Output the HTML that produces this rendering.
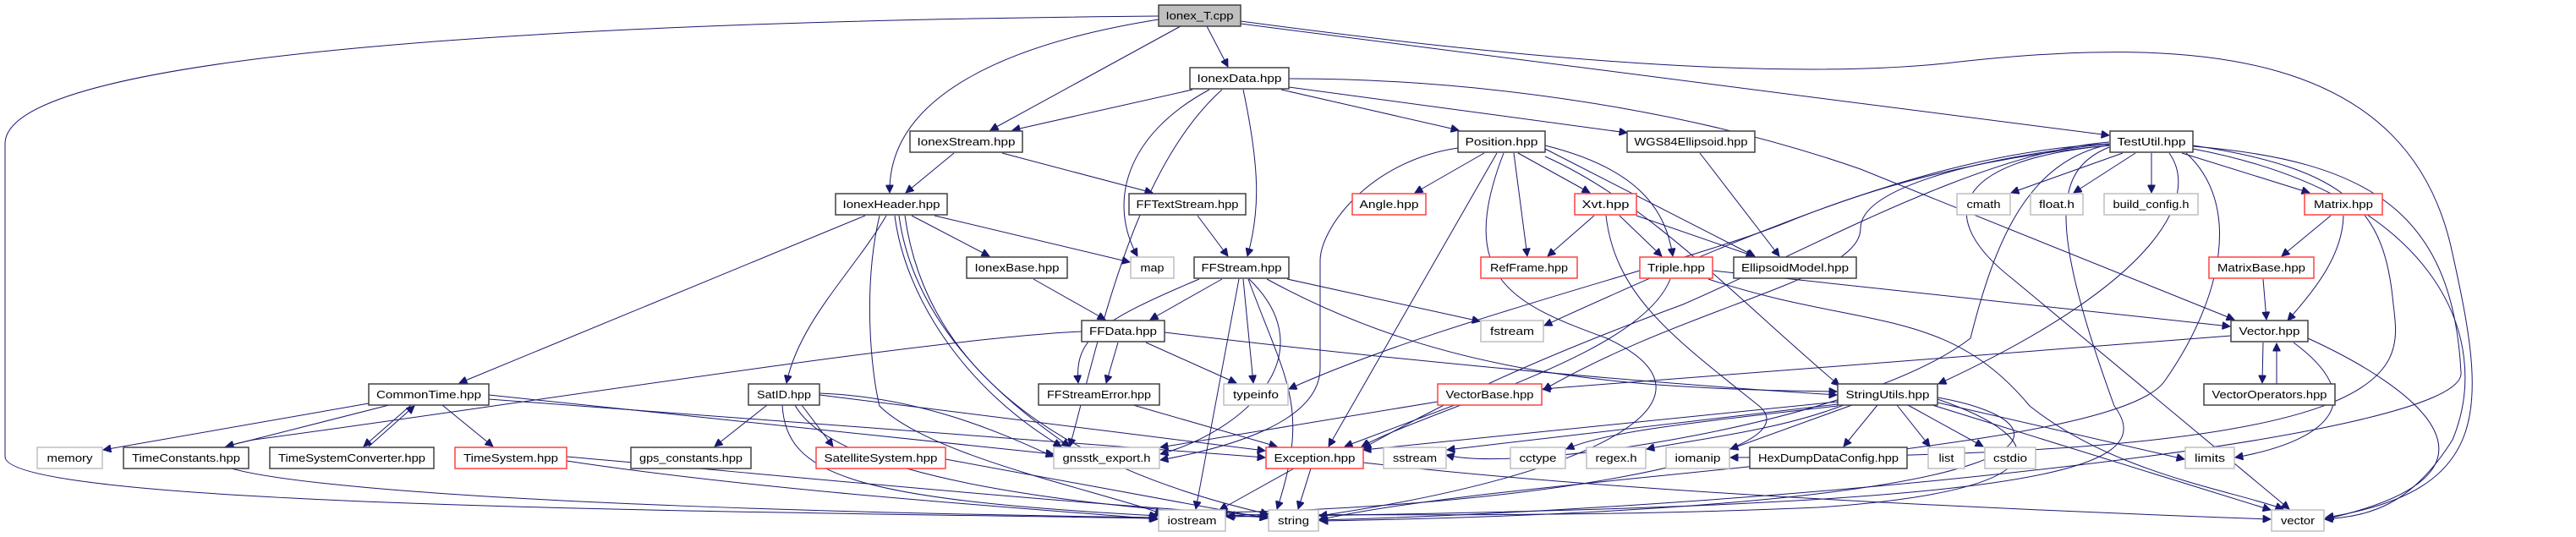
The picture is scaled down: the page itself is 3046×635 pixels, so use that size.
<!DOCTYPE html>
<html><head><meta charset="utf-8"><style>
html,body{margin:0;padding:0;background:#fff;}
svg{display:block;}
text{font-family:"Liberation Sans","DejaVu Sans",sans-serif;font-size:13px;fill:#000;text-anchor:middle;}
.b{fill:#fff;stroke:#404040;stroke-width:1.5;}
.g{fill:#fff;stroke:#bfbfbf;stroke-width:1.5;}
.r{fill:#fff;stroke:#ff4040;stroke-width:1.5;}
.e path{fill:none;stroke:#191970;stroke-width:1;marker-end:url(#a);}
</style></head><body>
<svg width="3046" height="635" viewBox="0 0 3046 635" xmlns="http://www.w3.org/2000/svg">
<defs><marker id="a" viewBox="0 0 10 10" refX="10" refY="5" markerWidth="11" markerHeight="9" markerUnits="userSpaceOnUse" orient="auto"><path d="M0,0 L10,5 L0,10 z" fill="#191970" stroke="#191970"/></marker></defs>
<g class="e">
<!-- Ionex_T -->
<path d="M1370,19 C700,25 6,60 6,170 L6,540 C6,600 900,605 1368,613"/>
<path d="M1427,31 L1452,79"/>
<path d="M1396,31 L1171,154"/>
<path d="M1370,23 C1200,50 1050,110 1052,228"/>
<path d="M1467,28 L2494,160"/>
<path d="M1467,25 C1800,70 2100,95 2300,75 C2600,40 2850,60 2900,300 C2940,480 2950,580 2750,612"/>
<!-- IonexData -->
<path d="M1410,106 L1197,154"/>
<path d="M1430,106 C1330,160 1310,240 1345,303"/>
<path d="M1445,106 C1340,200 1300,400 1265,528"/>
<path d="M1470,106 C1490,200 1490,250 1475,303"/>
<path d="M1515,106 L1725,154"/>
<path d="M1524,103 L1924,157"/>
<path d="M1524,93 C1750,93 2000,130 2200,200 L2642,378"/>
<!-- IonexStream -->
<path d="M1128,181 L1071,228"/>
<path d="M1185,181 L1363,228"/>
<!-- IonexHeader -->
<path d="M1023,255 L543,453"/>
<path d="M1048,255 C1010,320 945,380 930,453"/>
<path d="M1078,255 L1170,303"/>
<path d="M1105,255 L1336,310"/>
<path d="M1058,255 C1070,350 1140,460 1255,528"/>
<path d="M1063,255 C1080,380 1180,470 1265,528"/>
<path d="M1040,255 C1020,340 1030,440 1040,480 C1100,540 1300,580 1375,608"/>
<path d="M1070,255 C1090,400 1200,540 1500,608"/>
<!-- FFTextStream -->
<path d="M1416,255 L1452,303"/>
<!-- IonexBase -->
<path d="M1222,330 L1307,378"/>
<!-- FFStream -->
<path d="M1445,330 L1360,378"/>
<path d="M1418,330 C1300,380 1270,400 1275,453"/>
<path d="M1470,330 L1482,453"/>
<path d="M1465,330 L1414,602"/>
<path d="M1476,330 C1520,450 1550,480 1510,602"/>
<path d="M1477,330 C1570,420 1470,510 1372,537"/>
<path d="M1522,330 L1750,380"/>
<path d="M1498,330 C1700,440 1900,460 2172,463"/>
<!-- FFData -->
<path d="M1279,392 C1100,400 600,480 300,520 C100,560 500,600 1368,612"/>
<path d="M1322,405 L1308,453"/>
<path d="M1355,405 L1462,453"/>
<path d="M1377,393 C1600,420 1900,450 2172,467"/>
<!-- FFStreamError -->
<path d="M1340,479 L1510,528"/>
<!-- Position -->
<path d="M1755,181 L1673,228"/>
<path d="M1790,181 L1806,303"/>
<path d="M1795,181 L1880,228"/>
<path d="M1827,172 C1940,200 1970,250 1978,303"/>
<path d="M1827,176 L2075,303"/>
<path d="M1770,181 L1571,528"/>
<path d="M1827,185 C1950,240 2050,350 2175,456"/>
<path d="M1724,175 C1620,190 1560,270 1561,310 L1561,435 C1561,500 1450,530 1372,544"/>
<path d="M1778,181 C1720,330 1790,360 1900,400 C2050,470 1900,560 1560,610"/>
<!-- WGS84 -->
<path d="M2010,181 L2104,303"/>
<!-- Xvt -->
<path d="M1885,255 L1830,303"/>
<path d="M1915,255 L1965,303"/>
<path d="M1935,255 L2074,303"/>
<path d="M1899,255 C1910,350 1980,400 2080,480 C2150,540 1800,600 1442,606"/>
<!-- Triple -->
<path d="M2025,320 L2637,386"/>
<path d="M1975,330 C1940,420 1700,480 1610,528"/>
<path d="M2020,330 C2200,390 2300,360 2400,480 C2500,560 2640,580 2700,602"/>
<!-- TestUtil -->
<path d="M2510,181 L2378,228"/>
<path d="M2525,181 L2452,228"/>
<path d="M2544,181 L2544,228"/>
<path d="M2580,181 L2731,228"/>
<path d="M2494,170 C2300,180 2100,260 1826,385"/>
<path d="M2494,172 C2300,190 2170,240 2120,260 C2000,310 1700,380 1524,460"/>
<path d="M2565,181 C2600,230 2560,330 2292,454"/>
<path d="M2494,168 C2340,180 2130,300 1990,360 C1800,430 1700,480 1612,530"/>
<path d="M2494,170 C2350,185 2200,220 2200,270 C2200,330 2000,360 1825,461"/>
<path d="M2494,174 C2430,200 2420,260 2500,480 C2560,560 2400,600 1450,611"/>
<path d="M2494,171 C2400,190 2360,280 2330,400 C2200,500 1800,560 1710,538"/>
<path d="M2494,172 C2300,190 2290,260 2380,330 L2707,602"/>
<path d="M2593,176 C2880,230 2950,400 2900,520 C2850,600 2800,610 2749,614"/>
<path d="M2593,173 C2800,190 2900,250 2910,440 C2920,520 2100,600 1560,615"/>
<path d="M2593,172 C2780,200 2820,250 2830,360 C2840,440 2860,540 2046,541"/>
<path d="M2585,181 C2650,240 2630,350 2560,450 C2500,540 1800,560 1559,615"/>
<!-- Matrix -->
<path d="M2756,255 L2698,303"/>
<path d="M2771,255 C2770,300 2740,340 2705,379"/>
<!-- MatrixBase -->
<path d="M2676,330 L2680,378"/>
<!-- Vector -->
<path d="M2676,405 L2675,453"/>
<path d="M2692,454 L2692,406"/>
<path d="M2638,397 L1824,460"/>
<path d="M2712,405 C2800,470 2760,520 2643,541"/>
<path d="M2729,400 C2860,460 2990,560 2749,614"/>
<!-- VectorBase -->
<path d="M1700,475 L1372,529"/>
<path d="M1720,479 L1590,528"/>
<!-- StringUtils -->
<path d="M2173,475 L1612,532"/>
<path d="M2173,478 L1711,532"/>
<path d="M2173,480 C2000,500 1900,510 1852,531"/>
<path d="M2180,479 C2100,510 2000,520 1947,531"/>
<path d="M2190,479 L2046,531"/>
<path d="M2220,479 L2180,528"/>
<path d="M2243,479 L2282,528"/>
<path d="M2256,479 L2345,528"/>
<path d="M2291,476 L2583,543"/>
<path d="M2285,479 L2685,603"/>
<path d="M2291,472 C2430,520 2440,580 2150,600 C1800,615 1500,605 1451,610"/>
<path d="M2291,470 C2460,500 2480,600 1561,616"/>
<!-- CommonTime -->
<path d="M436,477 L122,532"/>
<path d="M460,479 L267,528"/>
<path d="M486,479 L430,528"/>
<path d="M436,528 L490,480"/>
<path d="M523,479 L583,528"/>
<path d="M578,467 L1246,537"/>
<path d="M578,472 L1496,541"/>
<!-- TimeSystem -->
<path d="M670,540 C900,560 1200,590 1499,610"/>
<path d="M670,545 C900,580 1200,600 1369,614"/>
<!-- SatID -->
<path d="M907,479 L845,528"/>
<path d="M948,479 L985,528"/>
<path d="M925,479 C930,560 1000,590 1369,610"/>
<path d="M969,465 C1100,470 1200,520 1246,540"/>
<path d="M969,467 L1496,533"/>
<path d="M940,479 C990,570 1300,600 1499,612"/>
<!-- SatelliteSystem -->
<path d="M1118,543 L1499,613"/>
<!-- Exception -->
<path d="M1530,554 L1442,603"/>
<path d="M1550,554 L1535,602"/>
<path d="M1612,547 C1900,580 2300,600 2685,614"/>
</g>
<g>
<rect class="b" x="1370" y="6" width="97" height="25" style="fill:#bfbfbf"/><text x="1418.5" y="23" textLength="80" lengthAdjust="spacingAndGlyphs">Ionex_T.cpp</text>
<rect class="b" x="1407" y="80" width="117" height="25"/><text x="1465.5" y="97" textLength="100" lengthAdjust="spacingAndGlyphs">IonexData.hpp</text>
<rect class="b" x="1076" y="155" width="133" height="25"/><text x="1142.5" y="172" textLength="116" lengthAdjust="spacingAndGlyphs">IonexStream.hpp</text>
<rect class="b" x="1724" y="155" width="103" height="25"/><text x="1775.5" y="172" textLength="86" lengthAdjust="spacingAndGlyphs">Position.hpp</text>
<rect class="b" x="1924" y="155" width="151" height="25"/><text x="1999.5" y="172" textLength="134" lengthAdjust="spacingAndGlyphs">WGS84Ellipsoid.hpp</text>
<rect class="b" x="2495" y="155" width="98" height="25"/><text x="2544" y="172" textLength="81" lengthAdjust="spacingAndGlyphs">TestUtil.hpp</text>
<rect class="b" x="988" y="229" width="132" height="25"/><text x="1054" y="246" textLength="115" lengthAdjust="spacingAndGlyphs">IonexHeader.hpp</text>
<rect class="b" x="1335" y="229" width="138" height="25"/><text x="1404" y="246" textLength="121" lengthAdjust="spacingAndGlyphs">FFTextStream.hpp</text>
<rect class="r" x="1599" y="229" width="87" height="25"/><text x="1642.5" y="246" textLength="70" lengthAdjust="spacingAndGlyphs">Angle.hpp</text>
<rect class="r" x="1862" y="229" width="73" height="25"/><text x="1898.5" y="246" textLength="56" lengthAdjust="spacingAndGlyphs">Xvt.hpp</text>
<rect class="g" x="2314" y="229" width="63" height="25"/><text x="2345.5" y="246" textLength="40" lengthAdjust="spacingAndGlyphs">cmath</text>
<rect class="g" x="2401" y="229" width="62" height="25"/><text x="2432" y="246" textLength="42" lengthAdjust="spacingAndGlyphs">float.h</text>
<rect class="g" x="2488" y="229" width="111" height="25"/><text x="2543.5" y="246" textLength="90" lengthAdjust="spacingAndGlyphs">build_config.h</text>
<rect class="r" x="2725" y="229" width="92" height="25"/><text x="2771" y="246" textLength="70" lengthAdjust="spacingAndGlyphs">Matrix.hpp</text>
<rect class="b" x="1143" y="304" width="119" height="25"/><text x="1202.5" y="321" textLength="100" lengthAdjust="spacingAndGlyphs">IonexBase.hpp</text>
<rect class="g" x="1337" y="304" width="51" height="25"/><text x="1362.5" y="321" textLength="28" lengthAdjust="spacingAndGlyphs">map</text>
<rect class="b" x="1412" y="304" width="112" height="25"/><text x="1468" y="321" textLength="95" lengthAdjust="spacingAndGlyphs">FFStream.hpp</text>
<rect class="r" x="1751" y="304" width="114" height="25"/><text x="1808" y="321" textLength="92" lengthAdjust="spacingAndGlyphs">RefFrame.hpp</text>
<rect class="r" x="1939" y="304" width="86" height="25"/><text x="1982" y="321" textLength="68" lengthAdjust="spacingAndGlyphs">Triple.hpp</text>
<rect class="b" x="2050" y="304" width="145" height="25"/><text x="2122.5" y="321" textLength="127" lengthAdjust="spacingAndGlyphs">EllipsoidModel.hpp</text>
<rect class="r" x="2612" y="304" width="124" height="25"/><text x="2674" y="321" textLength="104" lengthAdjust="spacingAndGlyphs">MatrixBase.hpp</text>
<rect class="b" x="1279" y="379" width="98" height="25"/><text x="1328" y="396" textLength="80" lengthAdjust="spacingAndGlyphs">FFData.hpp</text>
<rect class="g" x="1751" y="379" width="74" height="25"/><text x="1788" y="396" textLength="52" lengthAdjust="spacingAndGlyphs">fstream</text>
<rect class="b" x="2638" y="379" width="91" height="25"/><text x="2683.5" y="396" textLength="72" lengthAdjust="spacingAndGlyphs">Vector.hpp</text>
<rect class="b" x="436" y="454" width="142" height="25"/><text x="507" y="471" textLength="124" lengthAdjust="spacingAndGlyphs">CommonTime.hpp</text>
<rect class="b" x="885" y="454" width="84" height="25"/><text x="927" y="471" textLength="64" lengthAdjust="spacingAndGlyphs">SatID.hpp</text>
<rect class="b" x="1228" y="454" width="143" height="25"/><text x="1299.5" y="471" textLength="123" lengthAdjust="spacingAndGlyphs">FFStreamError.hpp</text>
<rect class="g" x="1447" y="454" width="76" height="25"/><text x="1485" y="471" textLength="54" lengthAdjust="spacingAndGlyphs">typeinfo</text>
<rect class="r" x="1700" y="454" width="123" height="25"/><text x="1761.5" y="471" textLength="104" lengthAdjust="spacingAndGlyphs">VectorBase.hpp</text>
<rect class="b" x="2173" y="454" width="118" height="25"/><text x="2232" y="471" textLength="99" lengthAdjust="spacingAndGlyphs">StringUtils.hpp</text>
<rect class="b" x="2606" y="454" width="155" height="25"/><text x="2683.5" y="471" textLength="136" lengthAdjust="spacingAndGlyphs">VectorOperators.hpp</text>
<rect class="g" x="44" y="529" width="77" height="25"/><text x="82.5" y="546" textLength="54" lengthAdjust="spacingAndGlyphs">memory</text>
<rect class="b" x="146" y="529" width="148" height="25"/><text x="220" y="546" textLength="128" lengthAdjust="spacingAndGlyphs">TimeConstants.hpp</text>
<rect class="b" x="319" y="529" width="194" height="25"/><text x="416" y="546" textLength="174" lengthAdjust="spacingAndGlyphs">TimeSystemConverter.hpp</text>
<rect class="r" x="538" y="529" width="132" height="25"/><text x="604" y="546" textLength="112" lengthAdjust="spacingAndGlyphs">TimeSystem.hpp</text>
<rect class="b" x="746" y="529" width="142" height="25"/><text x="817" y="546" textLength="122" lengthAdjust="spacingAndGlyphs">gps_constants.hpp</text>
<rect class="r" x="965" y="529" width="153" height="25"/><text x="1041.5" y="546" textLength="134" lengthAdjust="spacingAndGlyphs">SatelliteSystem.hpp</text>
<rect class="g" x="1246" y="529" width="125" height="25"/><text x="1308.5" y="546" textLength="104" lengthAdjust="spacingAndGlyphs">gnsstk_export.h</text>
<rect class="r" x="1497" y="529" width="115" height="25"/><text x="1554.5" y="546" textLength="96" lengthAdjust="spacingAndGlyphs">Exception.hpp</text>
<rect class="g" x="1636" y="529" width="74" height="25"/><text x="1673" y="546" textLength="52" lengthAdjust="spacingAndGlyphs">sstream</text>
<rect class="g" x="1786" y="529" width="65" height="25"/><text x="1818.5" y="546" textLength="44" lengthAdjust="spacingAndGlyphs">cctype</text>
<rect class="g" x="1876" y="529" width="70" height="25"/><text x="1911" y="546" textLength="49" lengthAdjust="spacingAndGlyphs">regex.h</text>
<rect class="g" x="1970" y="529" width="75" height="25"/><text x="2007.5" y="546" textLength="54" lengthAdjust="spacingAndGlyphs">iomanip</text>
<rect class="b" x="2069" y="529" width="186" height="25"/><text x="2162" y="546" textLength="166" lengthAdjust="spacingAndGlyphs">HexDumpDataConfig.hpp</text>
<rect class="g" x="2280" y="529" width="43" height="25"/><text x="2301.5" y="546" textLength="18" lengthAdjust="spacingAndGlyphs">list</text>
<rect class="g" x="2347" y="529" width="60" height="25"/><text x="2377" y="546" textLength="40" lengthAdjust="spacingAndGlyphs">cstdio</text>
<rect class="g" x="2584" y="529" width="58" height="25"/><text x="2613" y="546" textLength="36" lengthAdjust="spacingAndGlyphs">limits</text>
<rect class="g" x="1370" y="603" width="79" height="25"/><text x="1409.5" y="620" textLength="58" lengthAdjust="spacingAndGlyphs">iostream</text>
<rect class="g" x="1500" y="603" width="59" height="25"/><text x="1529.5" y="620" textLength="37" lengthAdjust="spacingAndGlyphs">string</text>
<rect class="g" x="2686" y="603" width="62" height="25"/><text x="2717" y="620" textLength="40" lengthAdjust="spacingAndGlyphs">vector</text>
</g>
</svg>
</body></html>
